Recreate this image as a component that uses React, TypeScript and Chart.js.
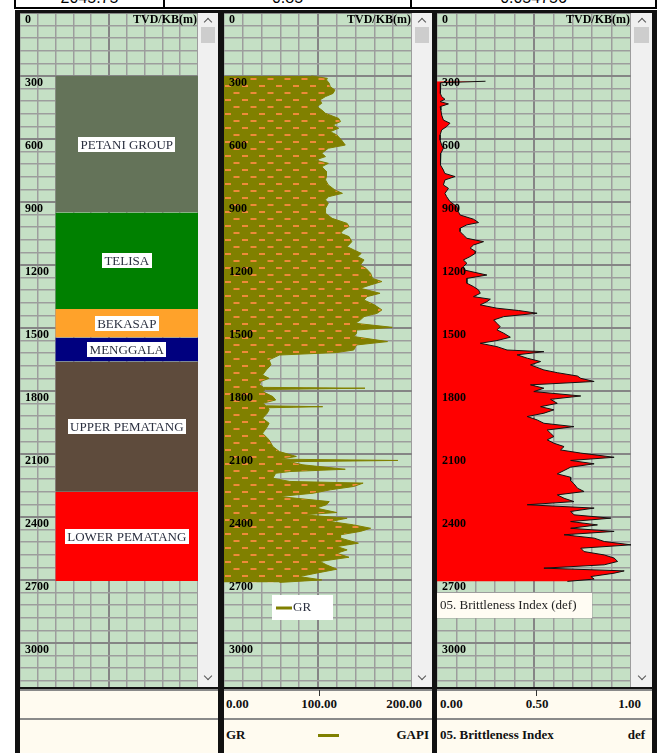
import React, { useEffect, useRef } from 'react';
import { Chart, registerables } from 'chart.js';

Chart.register(...registerables);

// ---------------- data ----------------
const DEPTH_MAX = 3210;
const DEPTH_MINOR = 60;
const DEPTH_MAJOR = 300;
const DEPTH_TITLE = 'TVD/KB(m)';

const ZONE_NAMES = ['PETANI GROUP', 'TELISA', 'BEKASAP', 'MENGGALA', 'UPPER PEMATANG', 'LOWER PEMATANG'];
const ZONE_TOPS = [300, 950, 1410, 1545, 1660, 2280];
const ZONE_BASES = [950, 1410, 1545, 1660, 2280, 2705];
const ZONE_COLORS = ['#647359', '#008000', '#FFA22A', '#00007F', '#5E4B3C', '#FF0000'];

const GR_DEPTH = [
  300, 311, 319, 335, 351, 367, 383, 398, 414, 430,
  446, 462, 478, 502, 517, 533, 549, 565, 581, 605,
  629, 644, 668, 684, 700, 716, 732, 755, 779, 795,
  819, 843, 859, 875, 890, 906, 930, 954, 978, 1002,
  1017, 1033, 1049, 1065, 1089, 1113, 1128, 1145, 1160, 1176,
  1200, 1216, 1240, 1264, 1279, 1295, 1311, 1335, 1351, 1367,
  1390, 1414, 1430, 1446, 1462, 1478, 1497, 1510, 1525, 1541,
  1565, 1581, 1605, 1617, 1629, 1652, 1676, 1700, 1724, 1740,
  1755, 1771, 1783, 1787, 1793, 1803, 1827, 1843, 1859, 1871,
  1875, 1880, 1890, 1906, 1930, 1954, 1978, 2002, 2033, 2065,
  2089, 2112, 2125, 2131, 2137, 2152, 2173, 2184, 2192, 2216,
  2231, 2239, 2255, 2271, 2287, 2303, 2327, 2342, 2358, 2379,
  2390, 2406, 2422, 2438, 2454, 2469, 2485, 2501, 2525, 2541,
  2557, 2573, 2592, 2612, 2628, 2649, 2668, 2684, 2700, 2712,
];
const GR_VALUE = [
  93, 110, 109, 112, 113, 118, 116, 108, 102, 104,
  99, 104, 108, 122, 124, 116, 122, 113, 120, 125,
  129, 111, 104, 108, 97, 111, 104, 109, 109, 108,
  111, 118, 126, 111, 108, 111, 108, 108, 115, 131,
  133, 127, 124, 133, 136, 131, 138, 146, 142, 149,
  145, 151, 156, 158, 168, 156, 145, 166, 152, 149,
  160, 168, 163, 149, 145, 140, 179, 141, 141, 138,
  174, 141, 138, 120, 59, 48, 50, 45, 41, 48,
  39, 38, 42, 150, 44, 41, 52, 55, 41, 45,
  105, 47, 48, 46, 41, 48, 45, 41, 48, 52,
  59, 77, 60, 185, 70, 84, 129, 70, 55, 52,
  70, 148, 138, 113, 95, 59, 112, 109, 98, 120,
  84, 131, 113, 138, 156, 145, 124, 124, 143, 120,
  131, 120, 133, 102, 109, 120, 98, 80, 104, 59,
];

const BI_DEPTH = [
  325, 332, 343, 367, 383, 398, 411, 422, 433, 446,
  462, 486, 510, 525, 541, 557, 581, 605, 629, 644,
  668, 700, 724, 748, 764, 779, 795, 819, 835, 859,
  875, 898, 922, 946, 962, 982, 998, 1009, 1025, 1041,
  1057, 1073, 1089, 1105, 1120, 1136, 1145, 1160, 1176, 1192,
  1208, 1224, 1248, 1264, 1287, 1303, 1319, 1335, 1351, 1363,
  1375, 1390, 1406, 1417, 1430, 1446, 1462, 1478, 1494, 1509,
  1525, 1544, 1560, 1573, 1589, 1605, 1613, 1628, 1644, 1660,
  1676, 1700, 1713, 1729, 1740, 1755, 1771, 1787, 1803, 1824,
  1840, 1859, 1875, 1890, 1906, 1922, 1938, 1954, 1970, 1986,
  2001, 2017, 2033, 2049, 2065, 2081, 2096, 2116, 2131, 2147,
  2163, 2179, 2195, 2211, 2227, 2242, 2263, 2279, 2295, 2311,
  2327, 2342, 2358, 2374, 2390, 2406, 2422, 2438, 2454, 2469,
  2485, 2501, 2517, 2533, 2549, 2565, 2581, 2596, 2612, 2628,
  2644, 2657, 2668, 2684, 2696, 2707,
];
const BI_VALUE = [
  0.25, 0.02, 0.016, 0.016, 0.02, 0.024, 0.041, 0.016, 0.059, 0.016,
  0.02, 0.024, 0.033, 0.067, 0.05, 0.024, 0.016, 0.016, 0.024, 0.033,
  0.02, 0.02, 0.016, 0.033, 0.04, 0.093, 0.041, 0.033, 0.059, 0.041,
  0.05, 0.067, 0.102, 0.11, 0.119, 0.188, 0.214, 0.154, 0.119, 0.119,
  0.136, 0.154, 0.24, 0.188, 0.171, 0.2, 0.197, 0.171, 0.136, 0.154,
  0.136, 0.14, 0.257, 0.154, 0.154, 0.188, 0.214, 0.223, 0.188, 0.275,
  0.257, 0.223, 0.309, 0.421, 0.516, 0.344, 0.292, 0.309, 0.326, 0.309,
  0.344, 0.378, 0.309, 0.223, 0.309, 0.361, 0.551, 0.413, 0.465, 0.534,
  0.482, 0.551, 0.62, 0.724, 0.741, 0.81, 0.482, 0.551, 0.499, 0.741,
  0.585, 0.62, 0.534, 0.603, 0.551, 0.465, 0.516, 0.551, 0.706, 0.568,
  0.585, 0.603, 0.568, 0.603, 0.655, 0.637, 0.741, 0.913, 0.689, 0.81,
  0.689, 0.655, 0.62, 0.689, 0.689, 0.706, 0.724, 0.758, 0.62, 0.655,
  0.706, 0.465, 0.81, 0.689, 0.706, 0.896, 0.689, 0.827, 0.689, 0.913,
  0.655, 0.81, 0.862, 1.0, 0.741, 0.758, 0.862, 0.913, 0.931, 0.862,
  0.551, 0.965, 0.913, 0.793, 0.81, 0.672,
];

const GR_SCALE_LABELS = ['0.00', '100.00', '200.00'];
const BI_SCALE_LABELS = ['0.00', '0.50', '1.00'];
const GR_NAME = 'GR';
const GR_UNIT = 'GAPI';
const BI_NAME = '05. Brittleness Index';
const BI_UNIT = 'def';
const BI_LEGEND = '05. Brittleness Index (def)';
const TOP_VALUES = ['2045.75', '0.85', '0.054756'];

// ---------------- styling ----------------
const GRID_TOP = 13;
const GRID_H = 674;
const GRID_BG = '#C5E0C5';
const MINOR = '#9d9d9d';
const MAJOR = '#858585';
const SERIF = '"Liberation Serif", "Times New Roman", serif';
const OLIVE = '#808000';
const CREAM = '#FFFBF0';

const TRACKS = [
  { kind: 'zones', left: 20, width: 178, scroll: 198, scrollW: 20 },
  { kind: 'gr', left: 224, width: 188, scroll: 412, scrollW: 20 },
  { kind: 'bi', left: 437, width: 194, scroll: 631, scrollW: 21 },
];

function makePattern(): CanvasPattern | string {
  const c = document.createElement('canvas');
  c.width = 17;
  c.height = 14;
  const g = c.getContext('2d');
  if (!g) return OLIVE;
  g.fillStyle = OLIVE;
  g.fillRect(0, 0, 17, 14);
  g.fillStyle = '#EE8A3A';
  g.fillRect(1, 2, 6, 2);
  g.fillRect(9.5, 9, 6, 2);
  const p = g.createPattern(c, 'repeat');
  return p || OLIVE;
}

function noPad(s: any) {
  s.paddingTop = 0;
  s.paddingBottom = 0;
  s.paddingLeft = 0;
  s.paddingRight = 0;
}

function depthScale() {
  const isMajor = (c: any) => c.tick && c.tick.value % DEPTH_MAJOR === 0;
  return {
    type: 'linear',
    position: 'left',
    min: 0,
    max: DEPTH_MAX,
    reverse: true,
    afterFit: (s: any) => { s.width = 0; noPad(s); },
    border: { display: false },
    grid: {
      drawTicks: false,
      color: (c: any) => (isMajor(c) ? MAJOR : MINOR),
      lineWidth: (c: any) => (isMajor(c) ? 2 : 1.5),
    },
    ticks: {
      stepSize: DEPTH_MINOR,
      autoSkip: false,
      includeBounds: false,
      mirror: true,
      padding: 5,
      labelOffset: 7,
      z: 1,
      color: '#000',
      font: { family: SERIF, weight: 'bold', size: 12 },
      callback: (v: any) => (Number(v) % DEPTH_MAJOR === 0 ? String(v) : ''),
    },
  };
}

function valueScale(min: number, max: number, step: number) {
  const mid = (min + max) / 2;
  const isMajor = (c: any) => c.tick && Math.abs(c.tick.value - mid) < step / 100;
  return {
    type: 'linear',
    position: 'top',
    min,
    max,
    afterFit: (s: any) => { s.height = 0; noPad(s); },
    border: { display: false },
    grid: {
      drawTicks: false,
      color: (c: any) => (isMajor(c) ? MAJOR : MINOR),
      lineWidth: (c: any) => (isMajor(c) ? 2 : 1.5),
    },
    ticks: { display: false, stepSize: step },
  };
}

const headerPlugin = {
  id: 'depthHeader',
  afterDraw(chart: any) {
    const { ctx, chartArea, scales } = chart;
    ctx.save();
    ctx.font = `bold 12px ${SERIF}`;
    ctx.fillStyle = '#000';
    ctx.textAlign = 'right';
    ctx.textBaseline = 'middle';
    ctx.fillText(DEPTH_TITLE, chartArea.right - 1, scales.y.getPixelForValue(0) + 7);
    ctx.restore();
  },
};

const zoneLabelPlugin = {
  id: 'zoneLabels',
  afterDatasetsDraw(chart: any) {
    const { ctx, scales } = chart;
    const x = scales.x;
    const y = scales.y;
    ctx.save();
    ctx.font = `13px ${SERIF}`;
    ctx.textAlign = 'center';
    ctx.textBaseline = 'middle';
    ZONE_NAMES.forEach((name, i) => {
      const cx = (x.getPixelForValue(2) + x.getPixelForValue(10)) / 2;
      const cy = (y.getPixelForValue(ZONE_TOPS[i]) + y.getPixelForValue(ZONE_BASES[i])) / 2;
      const w = ctx.measureText(name).width + 5;
      const h = 15;
      ctx.fillStyle = '#ffffff';
      ctx.fillRect(Math.round(cx - w / 2), Math.round(cy - h / 2), Math.round(w), h);
      ctx.fillStyle = '#2b3040';
      ctx.fillText(name, cx, cy + 1);
    });
    ctx.restore();
  },
};

const grLegendPlugin = {
  id: 'grLegend',
  afterDraw(chart: any) {
    const { ctx } = chart;
    ctx.save();
    ctx.fillStyle = '#ffffff';
    ctx.fillRect(48, 582, 61, 25);
    ctx.strokeStyle = OLIVE;
    ctx.lineWidth = 3;
    ctx.beginPath();
    ctx.moveTo(52, 595);
    ctx.lineTo(68, 595);
    ctx.stroke();
    ctx.font = `13px ${SERIF}`;
    ctx.fillStyle = '#2b3040';
    ctx.textAlign = 'left';
    ctx.textBaseline = 'middle';
    ctx.fillText(GR_NAME, 69, 595);
    ctx.restore();
  },
};

const biLegendPlugin = {
  id: 'biLegend',
  afterDraw(chart: any) {
    const { ctx } = chart;
    ctx.save();
    ctx.fillStyle = '#FFFCF3';
    ctx.fillRect(0, 580, 155, 25);
    ctx.font = `13px ${SERIF}`;
    ctx.fillStyle = '#222';
    ctx.textAlign = 'left';
    ctx.textBaseline = 'middle';
    ctx.fillText(BI_LEGEND, 3, 593);
    ctx.restore();
  },
};

function buildConfig(kind: string): any {
  let datasets: any[] = [];
  let xScale: any;
  const plugins: any[] = [headerPlugin];
  if (kind === 'zones') {
    xScale = valueScale(0, 10, 1);
    datasets = ZONE_NAMES.map((name, i) => ({
      label: name,
      data: [{ x: 10, y: ZONE_TOPS[i] }, { x: 10, y: ZONE_BASES[i] }],
      borderColor: 'rgba(0,0,0,0)',
      borderWidth: 0,
      backgroundColor: ZONE_COLORS[i],
      fill: { value: 2 },
      pointRadius: 0,
    }));
    plugins.push(zoneLabelPlugin);
  } else if (kind === 'gr') {
    xScale = valueScale(0, 200, 20);
    datasets = [{
      label: GR_NAME,
      data: GR_DEPTH.map((d, i) => ({ x: GR_VALUE[i], y: d })),
      borderColor: OLIVE,
      borderWidth: 1,
      backgroundColor: makePattern(),
      fill: { value: 0 },
      pointRadius: 0,
      tension: 0,
    }];
    plugins.push(grLegendPlugin);
  } else {
    xScale = valueScale(0, 1, 0.1);
    datasets = [{
      label: BI_LEGEND,
      data: BI_DEPTH.map((d, i) => ({ x: BI_VALUE[i], y: d })),
      borderColor: '#111',
      borderWidth: 1,
      backgroundColor: '#FF0000',
      fill: { value: 0 },
      pointRadius: 0,
      tension: 0,
    }];
    plugins.push(biLegendPlugin);
  }
  return {
    type: 'line',
    data: { datasets },
    options: {
      indexAxis: 'y',
      responsive: false,
      maintainAspectRatio: false,
      animation: false,
      events: [],
      layout: { padding: 0 },
      plugins: { legend: { display: false }, tooltip: { enabled: false } },
      scales: { x: xScale, y: depthScale() },
    },
    plugins,
  };
}

function TrackChart({ kind, left, width }: { kind: string; left: number; width: number }) {
  const ref = useRef<HTMLCanvasElement>(null);
  useEffect(() => {
    const canvas = ref.current;
    if (!canvas) return;
    const chart = new Chart(canvas, buildConfig(kind));
    return () => chart.destroy();
  }, [kind]);
  return (
    <canvas
      ref={ref}
      width={width}
      height={GRID_H}
      style={{ position: 'absolute', left, top: GRID_TOP, width, height: GRID_H, background: GRID_BG }}
    />
  );
}

function Chevron({ x, y, up }: { x: number; y: number; up: boolean }) {
  return (
    <div
      style={{
        position: 'absolute',
        left: x - 3,
        top: up ? y - 1 : y - 5,
        width: 5,
        height: 5,
        borderTop: '1.5px solid #555',
        borderLeft: '1.5px solid #555',
        transform: `rotate(${up ? 45 : 225}deg)`,
      }}
    />
  );
}

function Scrollbar({ left, width }: { left: number; width: number }) {
  const cx = left + width / 2;
  return (
    <>
      <div style={{ position: 'absolute', left, top: GRID_TOP, width, height: GRID_H, background: '#F0F0F0' }} />
      <Chevron x={cx} y={20} up={true} />
      <div style={{ position: 'absolute', left: left + 3, top: 27, width: width - 6, height: 16, background: '#CDCDCD' }} />
      <Chevron x={cx} y={678} up={false} />
    </>
  );
}

const txt = (extra: any): any => ({
  position: 'absolute',
  font: `bold 13px ${SERIF}`,
  color: '#111',
  whiteSpace: 'nowrap',
  lineHeight: '14px',
  ...extra,
});

export default function App() {
  const cells = [
    { left: 20, width: 198 },
    { left: 224, width: 208 },
    { left: 437, width: 215 },
  ];
  return (
    <div style={{ position: 'absolute', left: 0, top: 0, width: 659, height: 753, overflow: 'hidden', background: '#fff' }}>
      {/* cut-off table above */}
      <div style={{ position: 'absolute', left: 14, top: -20, width: 639, height: 25, border: '2px solid #000', background: '#fff' }} />
      <div style={{ position: 'absolute', left: 163, top: 0, width: 2, height: 8, background: '#000' }} />
      <div style={{ position: 'absolute', left: 410, top: 0, width: 2, height: 8, background: '#000' }} />
      {TOP_VALUES.map((t, i) => {
        const spans = [[16, 147], [165, 245], [412, 243]];
        return (
          <div key={i} style={{ position: 'absolute', left: spans[i][0], width: spans[i][1], top: -10, height: 16, overflow: 'visible', textAlign: 'center', font: '16px "Liberation Sans", Arial, sans-serif', lineHeight: '16px', color: '#000' }}>{t}</div>
        );
      })}

      {/* frame */}
      <div style={{ position: 'absolute', left: 15, top: 10, width: 642, height: 743, background: '#111' }} />

      {TRACKS.map((t) => (
        <React.Fragment key={t.kind}>
          <TrackChart kind={t.kind} left={t.left} width={t.width} />
          <Scrollbar left={t.scroll} width={t.scrollW} />
        </React.Fragment>
      ))}

      {/* bottom header panel */}
      {cells.map((c, i) => (
        <React.Fragment key={i}>
          <div style={{ position: 'absolute', left: c.left, top: 689, width: c.width, height: 64, background: CREAM, borderTop: '2px solid #8a8a8a', boxSizing: 'border-box' }} />
          <div style={{ position: 'absolute', left: c.left, top: 718, width: c.width, height: 2, background: '#8a8a8a' }} />
        </React.Fragment>
      ))}
      {/* GR scale */}
      <div style={txt({ left: 226, top: 697 })}>{GR_SCALE_LABELS[0]}</div>
      <div style={txt({ left: 279, width: 80, top: 697, textAlign: 'center' })}>{GR_SCALE_LABELS[1]}</div>
      <div style={txt({ left: 342, width: 80, top: 697, textAlign: 'right' })}>{GR_SCALE_LABELS[2]}</div>
      <div style={{ position: 'absolute', left: 319, top: 690, width: 1, height: 6, background: '#333' }} />
      <div style={txt({ left: 226, top: 728 })}>{GR_NAME}</div>
      <div style={{ position: 'absolute', left: 318, top: 734, width: 21, height: 3, background: OLIVE }} />
      <div style={txt({ left: 349, width: 80, top: 728, textAlign: 'right' })}>{GR_UNIT}</div>
      {/* BI scale */}
      <div style={txt({ left: 440, top: 697 })}>{BI_SCALE_LABELS[0]}</div>
      <div style={txt({ left: 497, width: 80, top: 697, textAlign: 'center' })}>{BI_SCALE_LABELS[1]}</div>
      <div style={txt({ left: 561, width: 80, top: 697, textAlign: 'right' })}>{BI_SCALE_LABELS[2]}</div>
      <div style={{ position: 'absolute', left: 536, top: 690, width: 1, height: 6, background: '#333' }} />
      <div style={txt({ left: 440, top: 728 })}>{BI_NAME}</div>
      <div style={txt({ left: 565, width: 80, top: 728, textAlign: 'right' })}>{BI_UNIT}</div>
    </div>
  );
}
